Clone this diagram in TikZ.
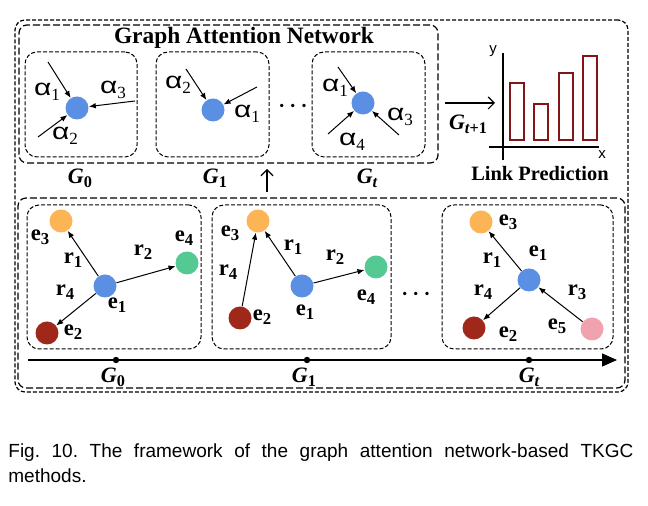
\documentclass[tikz,border=0pt]{standalone}
\usepackage{fontspec}
\usepackage{graphicx}
\setmainfont{Liberation Serif}
\newfontfamily\capfont{Liberation Sans}
\usetikzlibrary{arrows.meta,fit,positioning}

\definecolor{entblue}{RGB}{91,143,227}
\definecolor{entorange}{RGB}{253,180,84}
\definecolor{entgreen}{RGB}{85,201,148}
\definecolor{entred}{RGB}{160,40,26}
\definecolor{entpink}{RGB}{240,163,175}
\definecolor{barred}{RGB}{130,22,22}

% lowered, slightly reduced index
\newcommand{\sbs}[1]{\raisebox{-0.42ex}{\scalebox{0.74}{#1}}}
\newcommand{\alp}[1]{\scalebox{1.3}[1]{α}\sbs{\rmfamily #1}}

\begin{document}
\begin{tikzpicture}[x=0.5pt, y=-0.5pt,
    outerbox/.style={draw, dash pattern=on 2pt off 1pt, rounded corners=5pt, line width=0.6pt, inner sep=0pt},
    groupbox/.style={draw, dash pattern=on 3.5pt off 1.5pt, rounded corners=4pt, line width=0.6pt, inner sep=0pt},
    framebox/.style={draw, dash pattern=on 2pt off 1pt, rounded corners=6pt, line width=0.5pt, inner sep=0pt},
    entity/.style={circle, minimum size=11.5pt, inner sep=0pt},
    edge/.style={-{Latex[length=3.5pt,width=2.8pt]}, line width=0.5pt},
    flow/.style={-{Straight Barb[length=3pt,width=6pt]}, line width=0.6pt},
    timeline/.style={-{Triangle[length=7.5pt,width=6.5pt]}, line width=0.6pt},
    tick/.style={circle, fill, minimum size=3.2pt, inner sep=0pt},
    dots/.style={font=\boldmath\fontsize{11}{12}\selectfont, inner sep=0pt},
    attlabel/.style={font=\capfont\fontsize{11.5}{12}\selectfont, inner sep=0pt},
    entlabel/.style={font=\bfseries\fontsize{11.3}{12}\selectfont, inner sep=0pt},
    glabel/.style={font=\bfseries\itshape\fontsize{11}{12}\selectfont, inner sep=0pt},
    titlelabel/.style={font=\bfseries\fontsize{11.7}{13}\selectfont, inner sep=0pt},
    bar/.style={draw=barred, line width=0.8pt}]

    \useasboundingbox (0,0) rectangle (648,506);

    % ------------------ Frames ------------------

    \node[outerbox, fit={(15,20) (628,392)}] (outer) {};
    \node[groupbox, fit={(19,25) (438,163)}] (gat) {};
    \node[titlelabel] (gattitle) at (244,38) {Graph Attention Network};

    \node[framebox, fit={(25,52) (137,157)}] (att0) {};
    \node[framebox, fit={(156,52) (269,157)}] (att1) {};
    \node[framebox, fit={(312,52) (425,157)}] (attt) {};

    % ------------------ Attention at G0 ------------------

    \node[entity, fill=entblue] (h0) at (77,108) {};
    \coordinate (h0a) at (48,62);
    \coordinate (h0b) at (135,101);
    \coordinate (h0c) at (38,137);
    \draw[edge] (h0a) -- (h0);
    \draw[edge] (h0b) -- (h0);
    \draw[edge] (h0c) -- (h0);
    \node[attlabel] (h0la) at (47,92) {\alp{1}};
    \node[attlabel] (h0lb) at (113,90) {\alp{3}};
    \node[attlabel] (h0lc) at (65,136) {\alp{2}};

    % ------------------ Attention at G1 ------------------

    \node[entity, fill=entblue] (h1) at (213,110) {};
    \coordinate (h1a) at (186,69);
    \coordinate (h1b) at (257,87);
    \draw[edge] (h1a) -- (h1);
    \draw[edge] (h1b) -- (h1);
    \node[attlabel] (h1la) at (178,85) {\alp{2}};
    \node[attlabel] (h1lb) at (247,114) {\alp{1}};

    \node[dots] (gatdots) at (293,106) {$\cdots$};

    % ------------------ Attention at Gt ------------------

    \node[entity, fill=entblue] (ht) at (363,103) {};
    \coordinate (hta) at (338,67);
    \coordinate (htb) at (328,134);
    \coordinate (htc) at (399,135);
    \draw[edge] (hta) -- (ht);
    \draw[edge] (htb) -- (ht);
    \draw[edge] (htc) -- (ht);
    \node[attlabel] (htla) at (335,88) {\alp{1}};
    \node[attlabel] (htlb) at (352,142) {\alp{4}};
    \node[attlabel] (htlc) at (400,117) {\alp{3}};

    % Snapshot names
    \node[glabel] (gat0) at (80,178) {G\sbs{\upshape 0}};
    \node[glabel] (gat1) at (215,178) {G\sbs{\upshape 1}};
    \node[glabel] (gatt) at (367,178) {G\sbs{t}};

    % ------------------ Link Prediction ------------------

    \coordinate (predfrom) at (445,103);
    \coordinate (predto) at (495,103);
    \draw[flow] (predfrom) -- (predto);
    \node[glabel] (gnext) at (468,124) {G\sbs{t\upshape +1}};

    \draw[line width=0.6pt] (503,160) -- (503,53);
    \draw[line width=0.6pt] (489,147) -- (599,147);
    \node[font=\capfont\fontsize{7.5}{8}\selectfont, inner sep=0pt] (ylab) at (493,51) {y};
    \node[font=\capfont\fontsize{7.5}{8}\selectfont, inner sep=0pt] (xlab) at (602,155) {x};

    \draw[bar] (510,140) rectangle (524,83);
    \draw[bar] (534,140) rectangle (548,104);
    \draw[bar] (559,140) rectangle (573,73);
    \draw[bar] (583,140) rectangle (597,56);

    \node[font=\bfseries\fontsize{10.2}{12}\selectfont, inner sep=0pt] (linkpred) at (540,174) {Link Prediction};

    % Up arrow
    \coordinate (upfrom) at (267,192);
    \coordinate (upto) at (267,169);
    \draw[flow] (upfrom) -- (upto);

    % ------------------ Temporal Snapshots ------------------

    \node[groupbox, fit={(18,198) (625,388)}] (seq) {};
    \node[framebox, fit={(27,205) (201,349)}] (snap0) {};
    \node[framebox, fit={(212,205) (391,349)}] (snap1) {};
    \node[framebox, fit={(442,205) (613,349)}] (snapt) {};

    % Snapshot G0
    \node[entity, fill=entblue] (s0e1) at (105,286) {};
    \node[entity, fill=entred] (s0e2) at (47,333) {};
    \node[entity, fill=entorange] (s0e3) at (61,221) {};
    \node[entity, fill=entgreen] (s0e4) at (187,263) {};
    \draw[edge] (s0e1) -- (s0e3);
    \draw[edge] (s0e1) -- (s0e4);
    \draw[edge] (s0e1) -- (s0e2);
    \node[entlabel] at (40,237) {e\sbs{3}};
    \node[entlabel] at (73,260) {r\sbs{1}};
    \node[entlabel] at (143,252) {r\sbs{2}};
    \node[entlabel] at (184,238) {e\sbs{4}};
    \node[entlabel] at (65,292) {r\sbs{4}};
    \node[entlabel] at (117,305) {e\sbs{1}};
    \node[entlabel] at (73,332) {e\sbs{2}};

    % Snapshot G1
    \node[entity, fill=entblue] (s1e1) at (302,286) {};
    \node[entity, fill=entred] (s1e2) at (240,318) {};
    \node[entity, fill=entorange] (s1e3) at (258,221) {};
    \node[entity, fill=entgreen] (s1e4) at (376,267) {};
    \draw[edge] (s1e2) -- (s1e3);
    \draw[edge] (s1e1) -- (s1e3);
    \draw[edge] (s1e1) -- (s1e4);
    \node[entlabel] at (230,233) {e\sbs{3}};
    \node[entlabel] at (228,272) {r\sbs{4}};
    \node[entlabel] at (293,247) {r\sbs{1}};
    \node[entlabel] at (335,257) {r\sbs{2}};
    \node[entlabel] at (366,297) {e\sbs{4}};
    \node[entlabel] at (305,312) {e\sbs{1}};
    \node[entlabel] at (262,317) {e\sbs{2}};

    \node[dots] (seqdots) at (416,294) {$\cdots$};

    % Snapshot Gt
    \node[entity, fill=entblue] (ste1) at (529,280) {};
    \node[entity, fill=entred] (ste2) at (474,328) {};
    \node[entity, fill=entorange] (ste3) at (481,222) {};
    \node[entity, fill=entpink] (ste5) at (592,329) {};
    \draw[edge] (ste1) -- (ste3);
    \draw[edge] (ste1) -- (ste2);
    \draw[edge] (ste5) -- (ste1);
    \node[entlabel] at (508,222) {e\sbs{3}};
    \node[entlabel] at (538,253) {e\sbs{1}};
    \node[entlabel] at (492,260) {r\sbs{1}};
    \node[entlabel] at (483,292) {r\sbs{4}};
    \node[entlabel] at (577,292) {r\sbs{3}};
    \node[entlabel] at (557,326) {e\sbs{5}};
    \node[entlabel] at (508,334) {e\sbs{2}};

    % Timeline
    \coordinate (tstart) at (28,360);
    \coordinate (tend) at (617,360);
    \draw[timeline] (tstart) -- (tend);
    \node[tick] (t0) at (116,360) {};
    \node[tick] (t1) at (307,360) {};
    \node[tick] (tt) at (529,360) {};
    \node[glabel, below=2pt of t0, xshift=-1.5pt] (tl0) {G\sbs{\upshape 0}};
    \node[glabel, below=2pt of t1, xshift=-1.5pt] (tl1) {G\sbs{\upshape 1}};
    \node[glabel, below=2pt of tt] (tlt) {G\sbs{t}};

    % Caption
    \node[anchor=base west, inner sep=0pt, text width=312.5pt, align=justify,
          font=\capfont\fontsize{9.5}{12.5}\selectfont\frenchspacing] (caption) at (8,458)
          {Fig. 10. The framework of the graph attention network-based TKGC\linebreak methods.};

\end{tikzpicture}
\end{document}
